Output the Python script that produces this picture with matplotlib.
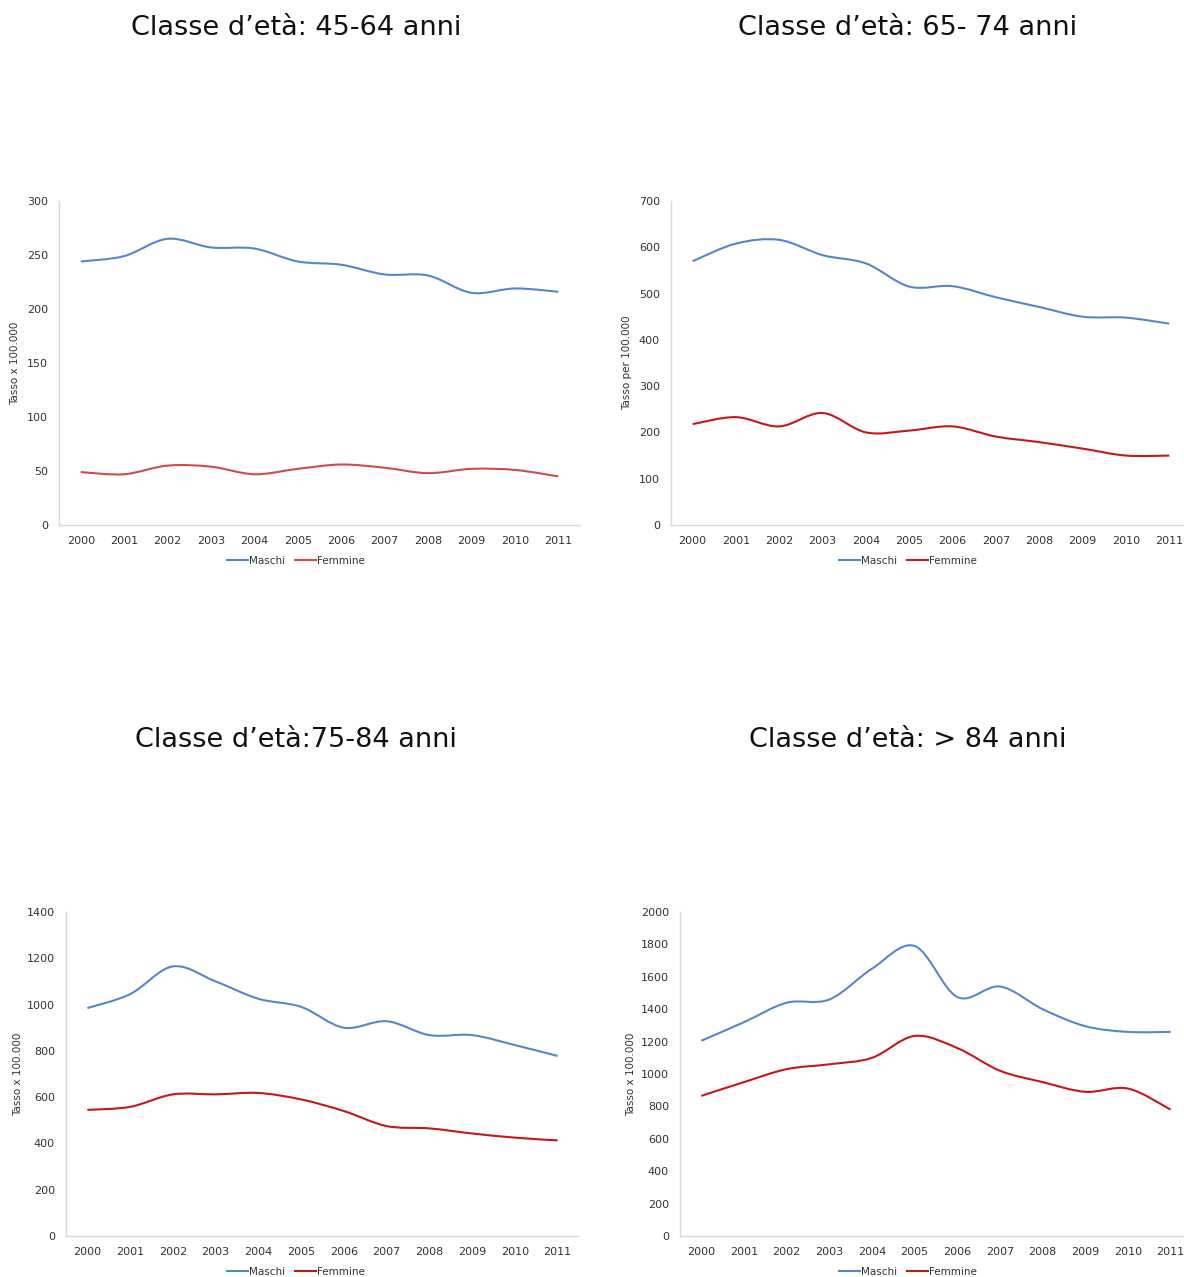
import matplotlib
matplotlib.use("Agg")
import matplotlib.pyplot as plt
from matplotlib.path import Path
from matplotlib.patches import PathPatch
from matplotlib.lines import Line2D

years = ["2000", "2001", "2002", "2003", "2004", "2005", "2006", "2007", "2008", "2009", "2010", "2011"]

m_45_64 = [244, 249, 265, 257, 256, 244, 241, 232, 231, 215, 219, 216]
f_45_64 = [49, 47, 55, 54, 47, 52, 56, 53, 48, 52, 51, 45]

m_65_74 = [570, 608, 616, 583, 565, 515, 516, 492, 471, 450, 448, 435]
f_65_74 = [218, 233, 213, 242, 200, 204, 213, 191, 179, 165, 150, 150]

m_75_84 = [985, 1045, 1165, 1100, 1025, 990, 900, 928, 868, 868, 825, 778]
f_75_84 = [545, 558, 612, 612, 618, 590, 540, 475, 465, 443, 425, 413]

m_85 = [1205, 1320, 1440, 1460, 1650, 1790, 1475, 1540, 1400, 1295, 1260, 1260]
f_85 = [865, 950, 1030, 1060, 1100, 1235, 1160, 1020, 950, 890, 910, 780]

titles = ["Classe d\u2019et\u00e0: 45-64 anni", "Classe d\u2019et\u00e0: 65- 74 anni",
          "Classe d\u2019et\u00e0:75-84 anni", "Classe d\u2019et\u00e0: > 84 anni"]
ylabels = ["Tasso x 100.000", "Tasso per 100.000", "Tasso x 100.000", "Tasso x 100.000"]
ymax = [300, 700, 1400, 2000]
ystep = [50, 100, 200, 200]

BLUE = "#5587cc"
RED1 = "#c9504b"
RED = "#c8161d"

W, H = 1184, 1277
fig = plt.figure(figsize=(W / 100, H / 100), dpi=100)
fig.patch.set_facecolor("white")

panels = [
    dict(l=59, r=580, t=201, b=525, tx=296, ty=28, yl=15, lx=296, ly=561,
         m=m_45_64, f=f_45_64, fc=RED1),
    dict(l=671, r=1191, t=201, b=525, tx=908, ty=28, yl=627, lx=908, ly=561,
         m=m_65_74, f=f_65_74, fc=RED),
    dict(l=66, r=579, t=912, b=1236, tx=296, ty=740, yl=18, lx=296, ly=1272,
         m=m_75_84, f=f_75_84, fc=RED),
    dict(l=680, r=1192, t=912, b=1236, tx=908, ty=740, yl=631, lx=908, ly=1272,
         m=m_85, f=f_85, fc=RED),
]


def smooth_path(xs, ys):
    n = len(xs)
    verts = [(xs[0], ys[0])]
    codes = [Path.MOVETO]
    for i in range(n - 1):
        x0, y0 = (xs[i - 1], ys[i - 1]) if i > 0 else (xs[i], ys[i])
        x1, y1 = xs[i], ys[i]
        x2, y2 = xs[i + 1], ys[i + 1]
        x3, y3 = (xs[i + 2], ys[i + 2]) if i + 2 < n else (xs[i + 1], ys[i + 1])
        c1 = (x1 + (x2 - x0) / 6.0, y1 + (y2 - y0) / 6.0)
        c2 = (x2 - (x3 - x1) / 6.0, y2 - (y3 - y1) / 6.0)
        verts += [c1, c2, (x2, y2)]
        codes += [Path.CURVE4] * 3
    return Path(verts, codes)


xs = list(range(len(years)))
for k, p in enumerate(panels):
    ax = fig.add_axes([p["l"] / W, 1 - p["b"] / H, (p["r"] - p["l"]) / W, (p["b"] - p["t"]) / H])
    ax.set_xlim(-0.5, len(years) - 0.5)
    ax.set_ylim(0, ymax[k])
    ax.set_yticks(range(0, ymax[k] + 1, ystep[k]))
    ax.set_xticks(xs)
    ax.set_xticklabels(years)
    for s in ["top", "right"]:
        ax.spines[s].set_visible(False)
    for s in ["left", "bottom"]:
        ax.spines[s].set_color("#d9d9d9")
        ax.spines[s].set_linewidth(1.0)
    ax.tick_params(axis="both", length=0, labelsize=8, labelcolor="#333333")
    ax.tick_params(axis="x", pad=8)
    ax.tick_params(axis="y", pad=8)
    ax.add_patch(PathPatch(smooth_path(xs, p["m"]), facecolor="none", edgecolor=BLUE, lw=1.5))
    ax.add_patch(PathPatch(smooth_path(xs, p["f"]), facecolor="none", edgecolor=p["fc"], lw=1.5))
    fig.text(p["tx"] / W, 1 - p["ty"] / H, titles[k], ha="center", va="center", fontsize=19.5, color="#111111")
    fig.text(p["yl"] / W, 1 - ((p["t"] + p["b"]) / 2) / H, ylabels[k], rotation=90,
             ha="center", va="center", fontsize=7.5, color="#333333")
    handles = [Line2D([], [], color=BLUE, lw=1.5), Line2D([], [], color=p["fc"], lw=1.5)]
    fig.legend(handles, ["Maschi", "Femmine"], loc="center", bbox_to_anchor=(p["lx"] / W, 1 - p["ly"] / H),
               ncol=2, frameon=False, fontsize=7.5, handlelength=2.0, handletextpad=0.1,
               columnspacing=0.9, labelcolor="#333333")

fig.savefig("out.png", dpi=100, facecolor="white")
